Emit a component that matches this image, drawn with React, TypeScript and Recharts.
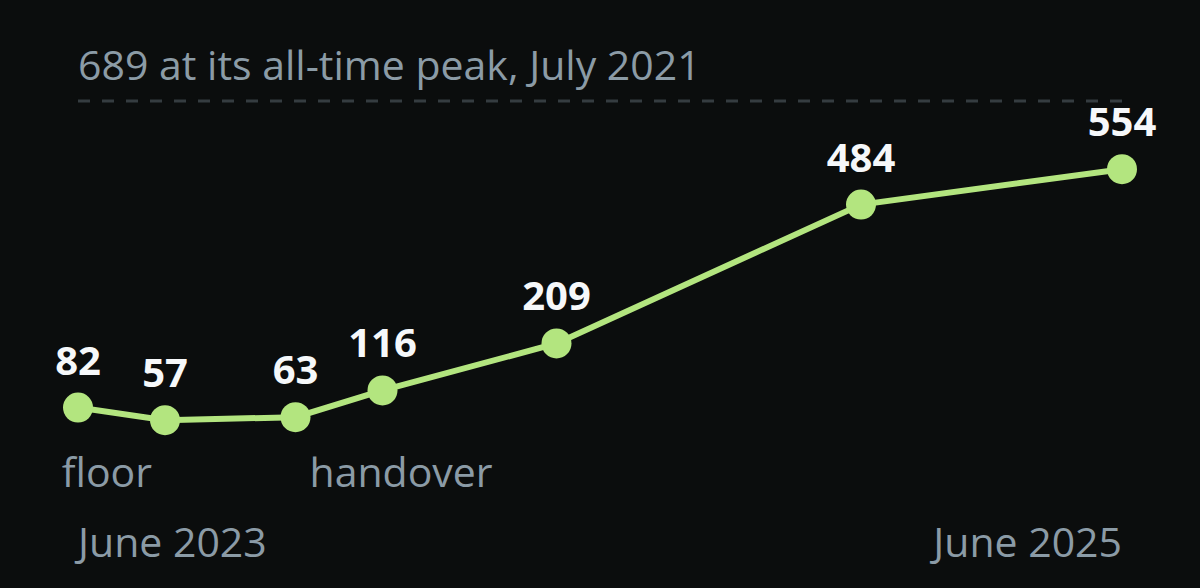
import React from "react";
import { LineChart, Line, XAxis, YAxis, ReferenceLine, LabelList } from "recharts";

// months since June 2023
const months = [0, 2, 5, 7, 11, 18, 24];
const values = [82, 57, 63, 116, 209, 484, 554];
const notes = ["", "floor", "handover", "", "", "", ""];
const tickMonths = [0, 24];
const tickLabels = ["June 2023", "June 2025"];
const peakValue = 689;
const peakLabel = "689 at its all-time peak, July 2021";

const data = months.map((m, i) => ({ m, v: values[i], note: notes[i] }));

const FONT = "'Open Sans', 'Noto Sans', sans-serif";
const GREEN = "#b3e57f";
const GRAY = "#8b9ba6";

const ValueLabel = (props: any) => {
  const { x, y, value } = props;
  return (
    <text x={x} y={y - 33} textAnchor="middle" fill="#f6f8fa" fontFamily={FONT} fontWeight={700} fontSize={40}>
      {value}
    </text>
  );
};

const NoteLabel = (props: any) => {
  const { x, value, index } = props;
  if (!value) return null;
  const anchorEnd = index === 1;
  return (
    <text x={anchorEnd ? x - 13 : x + 14} y={487} textAnchor={anchorEnd ? "end" : "start"} fill={GRAY} fontFamily={FONT} fontSize={41}>
      {value}
    </text>
  );
};

const Tick = (props: any) => {
  const { x, index } = props;
  return (
    <text x={x} y={557} textAnchor={index === 0 ? "start" : "end"} fill={GRAY} fontFamily={FONT} fontSize={41}>
      {tickLabels[index]}
    </text>
  );
};

const PeakLabel = (props: any) => {
  const { viewBox } = props;
  return (
    <text x={viewBox.x} y={viewBox.y - 21} fill={GRAY} fontFamily={FONT} fontSize={41}>
      {peakLabel}
    </text>
  );
};

export default function App() {
  return (
    <div style={{ width: 1200, height: 588, background: "#0b0d0d", position: "absolute", left: 0, top: 0 }}>
      <style>{"body{margin:0;background:#0b0d0d}"}</style>
      <LineChart width={1200} height={588} data={data} margin={{ top: 101, right: 78, left: 78, bottom: 39 }}>
        <XAxis
          dataKey="m"
          type="number"
          domain={[0, 24]}
          ticks={tickMonths}
          height={100}
          axisLine={false}
          tickLine={false}
          tick={<Tick />}
          interval={0}
        />
        <YAxis hide domain={[0, peakValue]} />
        <ReferenceLine y={peakValue} stroke="#353c40" strokeWidth={3} strokeDasharray="12 12" label={<PeakLabel />} />
        <Line
          dataKey="v"
          stroke={GREEN}
          strokeWidth={6}
          dot={{ r: 15, fill: GREEN, stroke: "none" }}
          isAnimationActive={false}
        >
          <LabelList dataKey="v" content={<ValueLabel />} />
          <LabelList dataKey="note" content={<NoteLabel />} />
        </Line>
      </LineChart>
    </div>
  );
}
